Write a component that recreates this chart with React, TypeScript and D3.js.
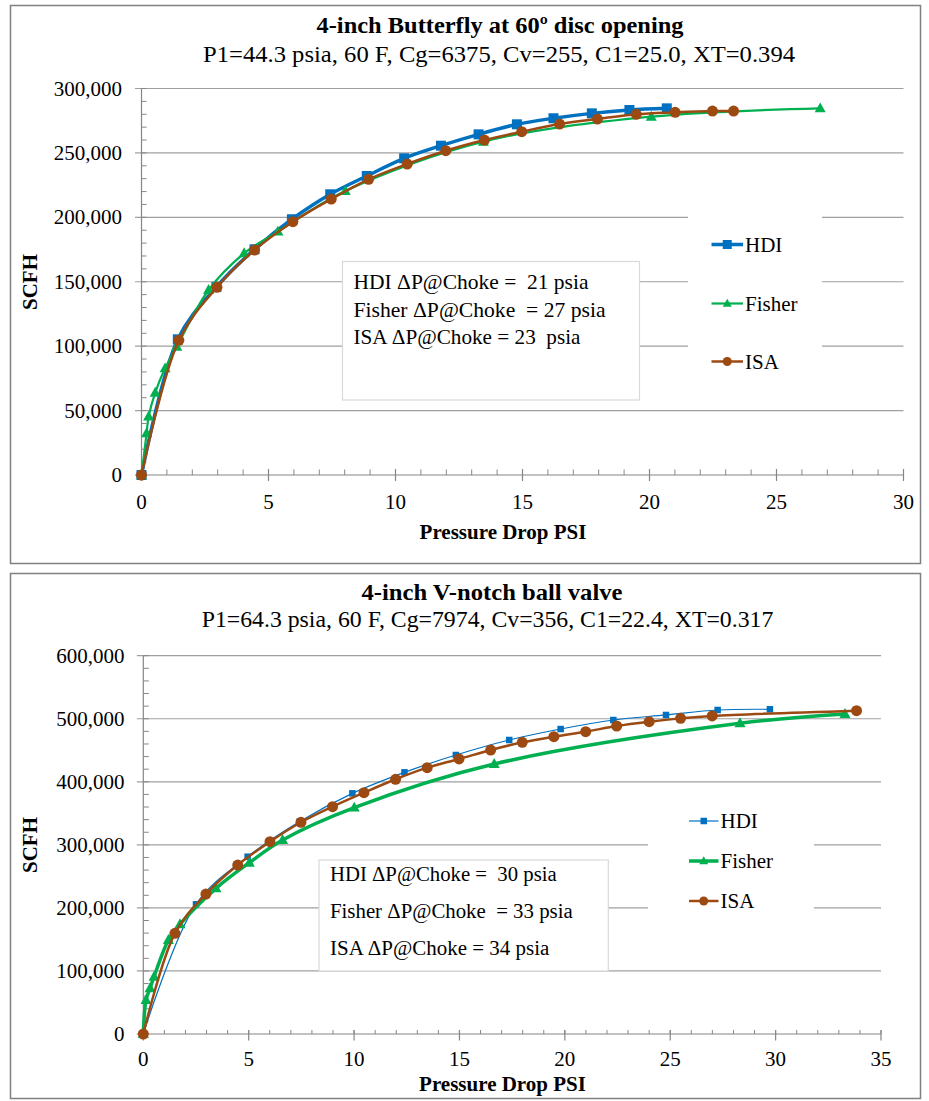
import React from 'react';
import * as d3 from 'd3';

// ---------- Chart 1: 4-inch Butterfly ----------
const bfHdiX = [0, 1.43, 2.95, 4.45, 5.92, 7.43, 8.87, 10.34, 11.79, 13.27, 14.78, 16.22, 17.73, 19.21, 20.68];
const bfHdiY = [0, 105300, 146000, 175200, 198500, 217900, 232100, 245800, 255600, 264400, 272200, 276900, 280700, 283300, 284600];
const bfFisherX = [0, 0.2, 0.28, 0.54, 0.93, 1.39, 2.64, 4.04, 5.37, 8.02, 13.46, 20.07, 26.72];
const bfFisherY = [0, 32400, 45300, 63900, 82800, 99600, 143600, 172100, 188900, 220400, 258700, 278100, 284600];
const bfIsaX = [0, 1.47, 2.97, 4.45, 5.96, 7.47, 8.94, 10.46, 11.98, 13.5, 14.97, 16.46, 17.95, 19.48, 21.01, 22.48, 23.31];
const bfIsaY = [0, 104500, 145700, 174600, 196600, 214200, 229500, 241400, 251700, 260000, 266500, 272400, 276300, 280000, 281500, 282500, 282500];
const bfXTicks = [0, 5, 10, 15, 20, 25, 30];
const bfYTicks = [0, 50000, 100000, 150000, 200000, 250000, 300000];
const bfNotes = ['HDI \u0394P@Choke =  21 psia', 'Fisher \u0394P@Choke  = 27 psia', 'ISA \u0394P@Choke = 23  psia'];

// ---------- Chart 2: 4-inch V-notch ball valve ----------
const vbHdiX = [0, 2.5, 4.95, 7.42, 9.92, 12.39, 14.83, 17.36, 19.8, 22.3, 24.8, 27.25, 29.73];
const vbHdiY = [0, 205700, 281200, 337000, 381700, 415000, 442500, 466300, 483700, 498000, 506000, 513900, 515000];
const vbFisherX = [0, 0.13, 0.32, 0.51, 1.19, 1.74, 3.45, 5.03, 6.61, 10.01, 16.65, 28.31, 33.29];
const vbFisherY = [0, 53900, 72500, 90900, 149000, 174000, 231000, 271700, 307700, 359000, 428200, 492800, 507500];
const vbIsaX = [0, 1.5, 2.97, 4.48, 6.01, 7.48, 8.98, 10.47, 11.97, 13.47, 14.98, 16.48, 17.98, 19.48, 20.99, 22.46, 24.0, 25.49, 26.99, 33.84];
const vbIsaY = [0, 159700, 222000, 268000, 305000, 335800, 360500, 382700, 404000, 422400, 436200, 450400, 462600, 471600, 479500, 488500, 495300, 500600, 504400, 512800];
const vbXTicks = [0, 5, 10, 15, 20, 25, 30, 35];
const vbYTicks = [0, 100000, 200000, 300000, 400000, 500000, 600000];
const vbNotes = ['HDI \u0394P@Choke =  30 psia', 'Fisher \u0394P@Choke  = 33 psia', 'ISA \u0394P@Choke = 34 psia'];

const BLUE = '#0070C0';
const GREEN = '#00B050';
const BROWN = '#9C4A12';
const FONT = "'Liberation Serif', 'Times New Roman', serif";

type MarkerType = 'square' | 'triangle' | 'circle';
type Series = { name: string; xs: number[]; ys: number[]; color: string; width: number; marker: MarkerType; size: number };

function Marker({ type, x, y, size, color }: { type: MarkerType; x: number; y: number; size: number; color: string }) {
  if (type === 'square') return <rect x={x - size / 2} y={y - size / 2} width={size} height={size} fill={color} />;
  if (type === 'circle') return <circle cx={x} cy={y} r={size / 2} fill={color} />;
  const h = size * 0.9;
  return <path d={`M${x},${y - h * 0.6}L${x + size / 2},${y + h * 0.4}L${x - size / 2},${y + h * 0.4}Z`} fill={color} />;
}

type Cfg = {
  frame: [number, number, number, number];
  title: string; titleY: number; titleLen?: number; titleX: number;
  subtitle: string; subX: number; subY: number; subLen: number;
  xDomain: [number, number]; xRange: [number, number];
  yDomain: [number, number]; yRange: [number, number];
  xTicks: number[]; yTicks: number[]; yMinor: number;
  majorOut: number; minorIn: number; xMajorUp: number; xMajorDown: number; xMinorUp: number;
  yLabelX: number; xLabelY: number;
  xTitleX: number; xTitleY: number; yTitleX: number; yTitleY: number;
  series: Series[];
  legendBg: [number, number, number, number];
  legendYs: number[]; legendX0: number; legendX1: number; legendMarker: number[];
  noteBox: [number, number, number, number];
  notes: string[]; noteX: number; noteYs: number[]; noteLens: number[]; noteSize: number;
};

function Chart({ c }: { c: Cfg }) {
  const x = d3.scaleLinear().domain(c.xDomain).range(c.xRange);
  const y = d3.scaleLinear().domain(c.yDomain).range(c.yRange);
  const fmt = d3.format(',');
  const x0 = c.xRange[0], x1 = c.xRange[1], yb = c.yRange[0];
  const xMinor = d3.range(c.xDomain[0], c.xDomain[1] + 0.001, 1);
  const yMinor = d3.range(c.yDomain[0], c.yDomain[1] + 1, c.yMinor);
  const line = d3.line<[number, number]>().x(d => x(d[0])).y(d => y(d[1])).curve(d3.curveCatmullRom.alpha(0.5));
  const [fx, fy, fw, fh] = c.frame;
  return (
    <g fontFamily={FONT} fill="#000">
      <rect x={fx} y={fy} width={fw} height={fh} fill="#fff" stroke="#808080" strokeWidth={1.5} />
      <text x={c.titleX} y={c.titleY} textAnchor="middle" fontWeight="bold" fontSize={23}
        textLength={c.titleLen} lengthAdjust="spacingAndGlyphs">{c.title}</text>
      <text x={c.subX} y={c.subY} textAnchor="middle" fontSize={24}
        textLength={c.subLen} lengthAdjust="spacingAndGlyphs">{c.subtitle}</text>
      {/* gridlines */}
      {c.yTicks.filter(t => t !== 0).map(t => (
        <line key={'g' + t} x1={x0 - c.majorOut} x2={x1} y1={y(t)} y2={y(t)} stroke="#a0a0a0" strokeWidth={1.2} />
      ))}
      {/* legend background & note box */}
      <rect x={c.legendBg[0]} y={c.legendBg[1]} width={c.legendBg[2]} height={c.legendBg[3]} fill="#fff" />
      <rect x={c.noteBox[0]} y={c.noteBox[1]} width={c.noteBox[2]} height={c.noteBox[3]} fill="#fff" stroke="#d9d9d9" strokeWidth={1.2} />
      {c.notes.map((n, i) => (
        <text key={'n' + i} x={c.noteX} y={c.noteYs[i]} fontSize={c.noteSize} style={{ whiteSpace: 'pre' }}
          textLength={c.noteLens[i]} lengthAdjust="spacingAndGlyphs">{n}</text>
      ))}
      {/* axes */}
      <line x1={x0} x2={x0} y1={y(c.yDomain[1])} y2={yb} stroke="#868686" strokeWidth={1.2} />
      <line x1={x0 - c.majorOut} x2={x0} y1={yb} y2={yb} stroke="#868686" strokeWidth={1.2} />
      {yMinor.map(t => (
        <line key={'ym' + t} x1={x0} x2={x0 + c.minorIn} y1={y(t)} y2={y(t)} stroke="#868686" strokeWidth={1} />
      ))}
      <line x1={x0} x2={x1} y1={yb} y2={yb} stroke="#868686" strokeWidth={1.2} />
      {xMinor.map(t => (
        <line key={'xm' + t} x1={x(t)} x2={x(t)} y1={yb - c.xMinorUp} y2={yb} stroke="#868686" strokeWidth={1} />
      ))}
      {c.xTicks.map(t => (
        <line key={'xM' + t} x1={x(t)} x2={x(t)} y1={yb - c.xMajorUp} y2={yb + c.xMajorDown} stroke="#868686" strokeWidth={1.2} />
      ))}
      {c.yTicks.map(t => (
        <text key={'yl' + t} x={c.yLabelX} y={y(t) + 7} textAnchor="end" fontSize={21}>{fmt(t)}</text>
      ))}
      {c.xTicks.map(t => (
        <text key={'xl' + t} x={x(t)} y={c.xLabelY} textAnchor="middle" fontSize={21}>{t}</text>
      ))}
      <text x={c.xTitleX} y={c.xTitleY} textAnchor="middle" fontWeight="bold" fontSize={21}>Pressure Drop PSI</text>
      <text transform={`translate(${c.yTitleX},${c.yTitleY}) rotate(-90)`} textAnchor="middle" fontWeight="bold" fontSize={21}>SCFH</text>
      {/* series */}
      {c.series.map(s => {
        const pts = s.xs.map((v, i) => [v, s.ys[i]] as [number, number]);
        return (
          <g key={s.name}>
            <path d={line(pts) || ''} fill="none" stroke={s.color} strokeWidth={s.width} />
            {pts.map((p, i) => <Marker key={i} type={s.marker} x={x(p[0])} y={y(p[1])} size={s.size} color={s.color} />)}
          </g>
        );
      })}
      {/* legend */}
      {c.series.map((s, i) => (
        <g key={'lg' + s.name}>
          <line x1={c.legendX0} x2={c.legendX1} y1={c.legendYs[i]} y2={c.legendYs[i]} stroke={s.color} strokeWidth={s.width} />
          <Marker type={s.marker} x={(c.legendX0 + c.legendX1) / 2} y={c.legendYs[i]} size={c.legendMarker[i]} color={s.color} />
          <text x={c.legendX1 + 2} y={c.legendYs[i] + 7} fontSize={21}>{s.name}</text>
        </g>
      ))}
    </g>
  );
}

const cfg1: Cfg = {
  frame: [10.5, 5.5, 910, 558],
  title: '4-inch Butterfly at 60\u00BA disc opening', titleX: 500, titleY: 33, titleLen: 367,
  subtitle: 'P1=44.3 psia, 60 F, Cg=6375, Cv=255, C1=25.0, XT=0.394', subX: 499, subY: 61.5, subLen: 592,
  xDomain: [0, 30], xRange: [141.5, 903.5],
  yDomain: [0, 300000], yRange: [475, 88.5],
  xTicks: bfXTicks, yTicks: bfYTicks, yMinor: 10000,
  majorOut: 6.5, minorIn: 5, xMajorUp: 6, xMajorDown: 6, xMinorUp: 5.5,
  yLabelX: 122, xLabelY: 508.5,
  xTitleX: 503, xTitleY: 538.5, yTitleX: 37, yTitleY: 282,
  series: [
    { name: 'HDI', xs: bfHdiX, ys: bfHdiY, color: BLUE, width: 3.5, marker: 'square', size: 10 },
    { name: 'Fisher', xs: bfFisherX, ys: bfFisherY, color: GREEN, width: 2.2, marker: 'triangle', size: 11 },
    { name: 'ISA', xs: bfIsaX, ys: bfIsaY, color: BROWN, width: 2.5, marker: 'circle', size: 11 },
  ],
  legendBg: [688, 205, 134, 185],
  legendYs: [244.5, 303.5, 361.5], legendX0: 711.5, legendX1: 743, legendMarker: [9, 9, 9],
  noteBox: [342.5, 261.5, 297, 138.5],
  notes: bfNotes, noteX: 353.5, noteYs: [289, 316.5, 344], noteLens: [235, 252, 227], noteSize: 21,
};

const cfg2: Cfg = {
  frame: [10.5, 573.5, 910, 525],
  title: '4-inch V-notch ball valve', titleX: 492, titleY: 600, titleLen: 261,
  subtitle: 'P1=64.3 psia, 60 F, Cg=7974, Cv=356, C1=22.4, XT=0.317', subX: 487.5, subY: 627, subLen: 571.6,
  xDomain: [0, 35], xRange: [143.3, 881],
  yDomain: [0, 600000], yRange: [1034, 655.7],
  xTicks: vbXTicks, yTicks: vbYTicks, yMinor: 20000,
  majorOut: 6.5, minorIn: 5.5, xMajorUp: 4, xMajorDown: 6.5, xMinorUp: 4,
  yLabelX: 124.5, xLabelY: 1066,
  xTitleX: 502.5, xTitleY: 1091, yTitleX: 37, yTitleY: 845,
  series: [
    { name: 'HDI', xs: vbHdiX, ys: vbHdiY, color: BLUE, width: 1.2, marker: 'square', size: 6.5 },
    { name: 'Fisher', xs: vbFisherX, ys: vbFisherY, color: GREEN, width: 3.5, marker: 'triangle', size: 11 },
    { name: 'ISA', xs: vbIsaX, ys: vbIsaY, color: BROWN, width: 2.5, marker: 'circle', size: 11 },
  ],
  legendBg: [648, 800, 166, 120],
  legendYs: [821, 861, 901], legendX0: 689, legendX1: 718.5, legendMarker: [6.5, 9, 9],
  noteBox: [319, 860, 289.3, 111],
  notes: vbNotes, noteX: 330, noteYs: [880.5, 918, 954.5], noteLens: [226.7, 242.7, 219.3], noteSize: 20.5,
};

export default function App() {
  return (
    <svg width={929} height={1101} style={{ position: 'absolute', left: 0, top: 0, background: '#fff' }}>
      <rect x={0} y={0} width={929} height={1101} fill="#fff" />
      <Chart c={cfg1} />
      <Chart c={cfg2} />
    </svg>
  );
}
